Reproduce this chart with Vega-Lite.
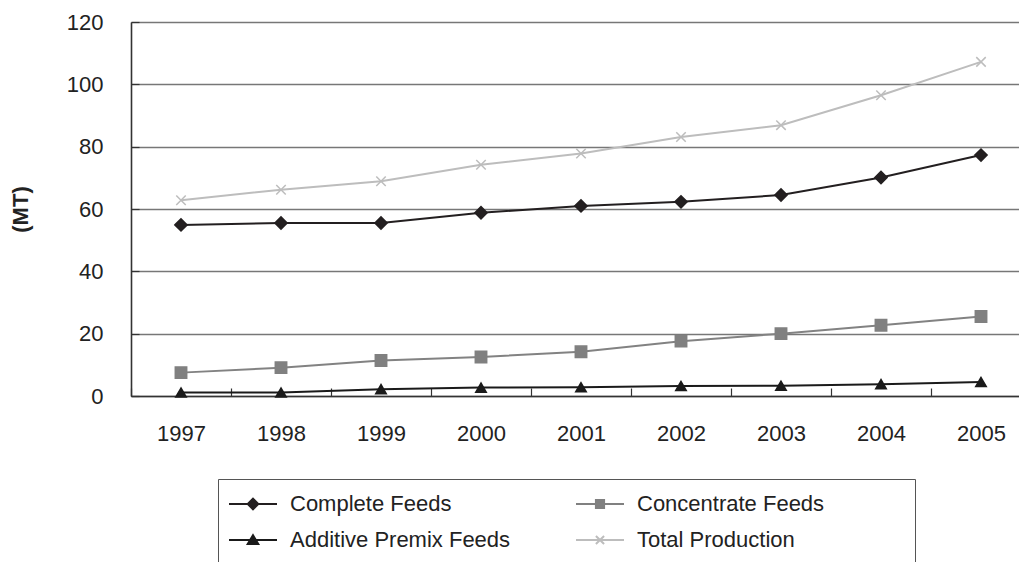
{
  "$schema": "https://vega.github.io/schema/vega-lite/v6.json",
  "width": 888,
  "height": 374,
  "autosize": {"type": "none"},
  "padding": {"left": 131, "top": 22, "right": 0, "bottom": 166},
  "background": "white",
  "config": {
    "view": {"stroke": null},
    "font": "Liberation Sans"
  },
  "data": {
    "values": [
      {"year": "1997", "series": "Complete Feeds", "value": 54.9},
      {"year": "1998", "series": "Complete Feeds", "value": 55.5},
      {"year": "1999", "series": "Complete Feeds", "value": 55.5},
      {"year": "2000", "series": "Complete Feeds", "value": 58.8},
      {"year": "2001", "series": "Complete Feeds", "value": 61.0},
      {"year": "2002", "series": "Complete Feeds", "value": 62.3},
      {"year": "2003", "series": "Complete Feeds", "value": 64.5},
      {"year": "2004", "series": "Complete Feeds", "value": 70.1},
      {"year": "2005", "series": "Complete Feeds", "value": 77.3},
      {"year": "1997", "series": "Concentrate Feeds", "value": 7.5},
      {"year": "1998", "series": "Concentrate Feeds", "value": 9.1},
      {"year": "1999", "series": "Concentrate Feeds", "value": 11.4},
      {"year": "2000", "series": "Concentrate Feeds", "value": 12.5},
      {"year": "2001", "series": "Concentrate Feeds", "value": 14.2},
      {"year": "2002", "series": "Concentrate Feeds", "value": 17.6},
      {"year": "2003", "series": "Concentrate Feeds", "value": 20.0},
      {"year": "2004", "series": "Concentrate Feeds", "value": 22.7},
      {"year": "2005", "series": "Concentrate Feeds", "value": 25.5},
      {"year": "1997", "series": "Additive Premix Feeds", "value": 1.1},
      {"year": "1998", "series": "Additive Premix Feeds", "value": 1.1},
      {"year": "1999", "series": "Additive Premix Feeds", "value": 2.2},
      {"year": "2000", "series": "Additive Premix Feeds", "value": 2.7},
      {"year": "2001", "series": "Additive Premix Feeds", "value": 2.8},
      {"year": "2002", "series": "Additive Premix Feeds", "value": 3.2},
      {"year": "2003", "series": "Additive Premix Feeds", "value": 3.3},
      {"year": "2004", "series": "Additive Premix Feeds", "value": 3.8},
      {"year": "2005", "series": "Additive Premix Feeds", "value": 4.5},
      {"year": "1997", "series": "Total Production", "value": 62.8},
      {"year": "1998", "series": "Total Production", "value": 66.2},
      {"year": "1999", "series": "Total Production", "value": 68.9},
      {"year": "2000", "series": "Total Production", "value": 74.2},
      {"year": "2001", "series": "Total Production", "value": 77.8},
      {"year": "2002", "series": "Total Production", "value": 83.1},
      {"year": "2003", "series": "Total Production", "value": 86.9},
      {"year": "2004", "series": "Total Production", "value": 96.5},
      {"year": "2005", "series": "Total Production", "value": 107.2}
    ]
  },
  "encoding": {
    "x": {
      "field": "year",
      "type": "ordinal",
      "scale": {"range": [0, 900], "paddingInner": 0, "paddingOuter": 0},
      "axis": {
        "title": null,
        "labelAngle": 0,
        "labelFontSize": 22,
        "labelColor": "#222222",
        "labelPadding": 35,
        "tickBand": "extent",
        "tickSize": -8,
        "tickColor": "#333333",
        "tickWidth": 1.2,
        "domainColor": "#333333",
        "domainWidth": 1.6,
        "grid": false
      }
    },
    "y": {
      "field": "value",
      "type": "quantitative",
      "scale": {"domain": [0, 120], "nice": false},
      "axis": {
        "title": "(MT)",
        "titleFontSize": 22,
        "titleFontWeight": "bold",
        "titleColor": "#222222",
        "titleAngle": -90,
        "titleAlign": "center",
        "titleBaseline": "middle",
        "titleX": -111,
        "titleY": 187,
        "values": [0, 20, 40, 60, 80, 100, 120],
        "labelFontSize": 22,
        "labelColor": "#222222",
        "labelPadding": 36,
        "tickSize": -8,
        "tickColor": "#333333",
        "tickWidth": 1.2,
        "domainColor": "#333333",
        "domainWidth": 1.6,
        "grid": true,
        "gridColor": "#777777",
        "gridWidth": 1.3
      }
    }
  },
  "layer": [
    {
      "mark": {"type": "line", "strokeWidth": 2},
      "encoding": {
        "color": {
          "field": "series",
          "type": "nominal",
          "scale": {
            "domain": ["Complete Feeds", "Concentrate Feeds", "Additive Premix Feeds", "Total Production"],
            "range": ["#231f20", "#828282", "#1a1a1a", "#bdbdbd"]
          },
          "legend": null
        }
      }
    },
    {
      "mark": {"type": "point", "opacity": 1, "strokeWidth": 1.5},
      "encoding": {
        "fill": {
          "field": "series",
          "type": "nominal",
          "scale": {
            "domain": ["Complete Feeds", "Concentrate Feeds", "Additive Premix Feeds", "Total Production"],
            "range": ["#231f20", "#808080", "#1a1a1a", "#bdbdbd"]
          },
          "legend": null
        },
        "stroke": {
          "field": "series",
          "type": "nominal",
          "scale": {
            "domain": ["Complete Feeds", "Concentrate Feeds", "Additive Premix Feeds", "Total Production"],
            "range": ["#231f20", "#808080", "#1a1a1a", "#bdbdbd"]
          },
          "legend": null
        },
        "shape": {
          "field": "series",
          "type": "nominal",
          "scale": {
            "domain": ["Complete Feeds", "Concentrate Feeds", "Additive Premix Feeds", "Total Production"],
            "range": ["diamond", "square", "triangle-up", "M-1,-1L1,1M1,-1L-1,1"]
          },
          "legend": null
        },
        "size": {
          "field": "series",
          "type": "nominal",
          "scale": {
            "domain": ["Complete Feeds", "Concentrate Feeds", "Additive Premix Feeds", "Total Production"],
            "range": [150, 90, 140, 144]
          },
          "legend": null
        }
      }
    },
    {
      "mark": {"type": "point", "opacity": 0},
      "encoding": {
        "fill": {
          "field": "series",
          "type": "nominal",
          "scale": {
            "domain": ["Complete Feeds", "Additive Premix Feeds", "Concentrate Feeds", "Total Production"],
            "range": ["#231f20", "#1a1a1a", "#808080", "#bdbdbd"]
          },
          "legend": {
            "orient": "none", "legendX": 87, "legendY": 457, "title": null, "columns": 2,
            "symbolSize": 2304, "symbolStrokeWidth": 2, "symbolOpacity": 1,
            "symbolOffset": 10, "labelFontSize": 22, "labelColor": "#222222", "labelOffset": 12,
            "labelLimit": 400, "rowPadding": 0, "columnPadding": 54, "padding": 0,
            "strokeColor": "#555555", "fillColor": "white"
          }
        },
        "stroke": {
          "field": "series",
          "type": "nominal",
          "scale": {
            "domain": ["Complete Feeds", "Additive Premix Feeds", "Concentrate Feeds", "Total Production"],
            "range": ["#231f20", "#1a1a1a", "#808080", "#bdbdbd"]
          },
          "legend": {
            "orient": "none", "legendX": 87, "legendY": 457, "title": null, "columns": 2,
            "symbolSize": 2304, "symbolStrokeWidth": 2, "symbolOpacity": 1,
            "symbolOffset": 10, "labelFontSize": 22, "labelColor": "#222222", "labelOffset": 12,
            "labelLimit": 400, "rowPadding": 0, "columnPadding": 54, "padding": 0,
            "strokeColor": "#555555", "fillColor": "white"
          }
        },
        "shape": {
          "field": "series",
          "type": "nominal",
          "scale": {
            "domain": ["Complete Feeds", "Additive Premix Feeds", "Concentrate Feeds", "Total Production"],
            "range": [
              "M-1,0H1M0,-0.22L0.22,0L0,0.22L-0.22,0Z",
              "M-1,0H1M0,-0.2L0.22,0.17H-0.22ZM0,1.6",
              "M-1,0H1M-0.17,-0.17H0.17V0.17H-0.17ZM12.95,0",
              "M-1,0H1M-0.17,-0.17L0.17,0.17M0.17,-0.17L-0.17,0.17M12.95,0M0,1.6"
            ]
          },
          "legend": {
            "orient": "none", "legendX": 87, "legendY": 457, "title": null, "columns": 2,
            "symbolSize": 2304, "symbolStrokeWidth": 2, "symbolOpacity": 1,
            "symbolOffset": 10, "labelFontSize": 22, "labelColor": "#222222", "labelOffset": 12,
            "labelLimit": 400, "rowPadding": 0, "columnPadding": 54, "padding": 0,
            "strokeColor": "#555555", "fillColor": "white"
          }
        }
      }
    }
  ],
  "resolve": {
    "scale": {"shape": "independent", "fill": "independent", "stroke": "independent"},
    "legend": {"shape": "independent", "fill": "independent", "stroke": "independent"}
  }
}
